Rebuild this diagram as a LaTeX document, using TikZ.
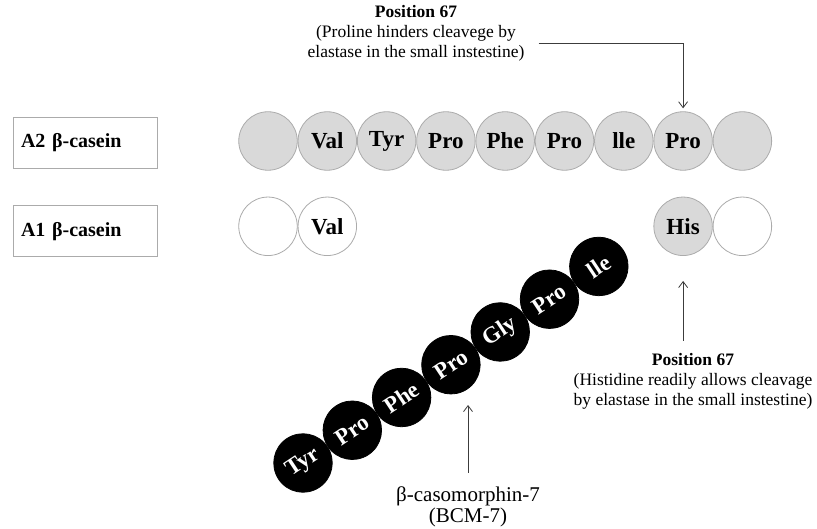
\documentclass[tikz,border=0pt]{standalone}
\usepackage{fontspec}
\setmainfont{Liberation Serif}
\usetikzlibrary{arrows.meta, positioning, calc}
\definecolor{beadgray}{HTML}{D9D9D9}
\definecolor{rimgray}{HTML}{ABABAB}
\definecolor{inkgray}{HTML}{3C3C3C}

\begin{document}
\begin{tikzpicture}[x=1pt, y=1pt,
  bead/.style={circle, draw=rimgray, line width=0.8pt, fill=beadgray,
    minimum size=58.5pt, inner sep=0pt, font=\fontsize{23}{26}\selectfont\bfseries},
  whitebead/.style={bead, fill=white},
  blackbead/.style={bead, draw=black, fill=black, text=white, rotate=33.6},
  variant/.style={rectangle, draw=rimgray, line width=0.8pt, minimum width=144pt,
    minimum height=51pt, text width=128pt, align=left, inner sep=8pt,
    font=\fontsize{20}{22}\selectfont\bfseries},
  note/.style={align=center, inner sep=0pt, font=\fontsize{17.5}{20}\selectfont},
  pointer/.style={draw=inkgray, line width=0.8pt, -{Straight Barb[length=6pt, width=9pt]}},
]
  \useasboundingbox (0,0) rectangle (817,-529);

  % variant labels
  \node[variant] (a2) at (85,-142.5) {A2 β-casein};
  \node[variant, below=37pt of a2] (a1) {A1 β-casein};

  % A2 chain
  \node[bead] (t1) at (268,-141) {};
  \node[bead, right=0pt of t1] (t2) {Val};
  \node[bead, right=0pt of t2] (t3) {Tyr};
  \node[bead, right=0pt of t3] (t4) {Pro};
  \node[bead, right=0pt of t4] (t5) {Phe};
  \node[bead, right=0pt of t5] (t6) {Pro};
  \node[bead, right=0pt of t6] (t7) {lle};
  \node[bead, right=0pt of t7] (t8) {Pro};
  \node[bead, right=0pt of t8] (t9) {};

  % A1 chain
  \node[whitebead, below=26pt of t1] (b1) {};
  \node[whitebead, right=0pt of b1] (b2) {Val};
  \node[bead, below=26pt of t8] (his) {His};
  \node[whitebead, right=0pt of his] (b9) {};

  % released BCM-7
  \node[blackbead] (m1) at (303,-463) {Tyr};
  \node[blackbead] (m2) at ($(m1)+(33.6:59.2)$) {Pro};
  \node[blackbead] (m3) at ($(m2)+(33.6:59.2)$) {Phe};
  \node[blackbead] (m4) at ($(m3)+(33.6:59.2)$) {Pro};
  \node[blackbead] (m5) at ($(m4)+(33.6:59.2)$) {Gly};
  \node[blackbead] (m6) at ($(m5)+(33.6:59.2)$) {Pro};
  \node[blackbead] (m7) at ($(m6)+(33.6:59.2)$) {lle};

  % notes
  \node[note] (note1) at (416,-33) {\textbf{Position 67}\\(Proline hinders cleavege by\\elastase in the small instestine)};
  \node[note] (note2) at (693,-381) {\textbf{Position 67}\\(Histidine readily allows cleavage\\by elastase in the small instestine)};
  \node[note, font=\fontsize{21}{21}\selectfont] (bcm) at (468,-507) {β-casomorphin-7\\(BCM-7)};
  \coordinate (bcmtip) at (468,-405);

  \draw[pointer] ([xshift=14pt,yshift=-10pt]note1.east) -| ([yshift=3pt]t8.north);
  \draw[pointer, shorten <=12pt, shorten >=25pt] (note2.north -| his.south) -- (his.south);
  \draw[pointer, shorten <=14pt] (bcm.north) -- (bcmtip);
\end{tikzpicture}
\end{document}
